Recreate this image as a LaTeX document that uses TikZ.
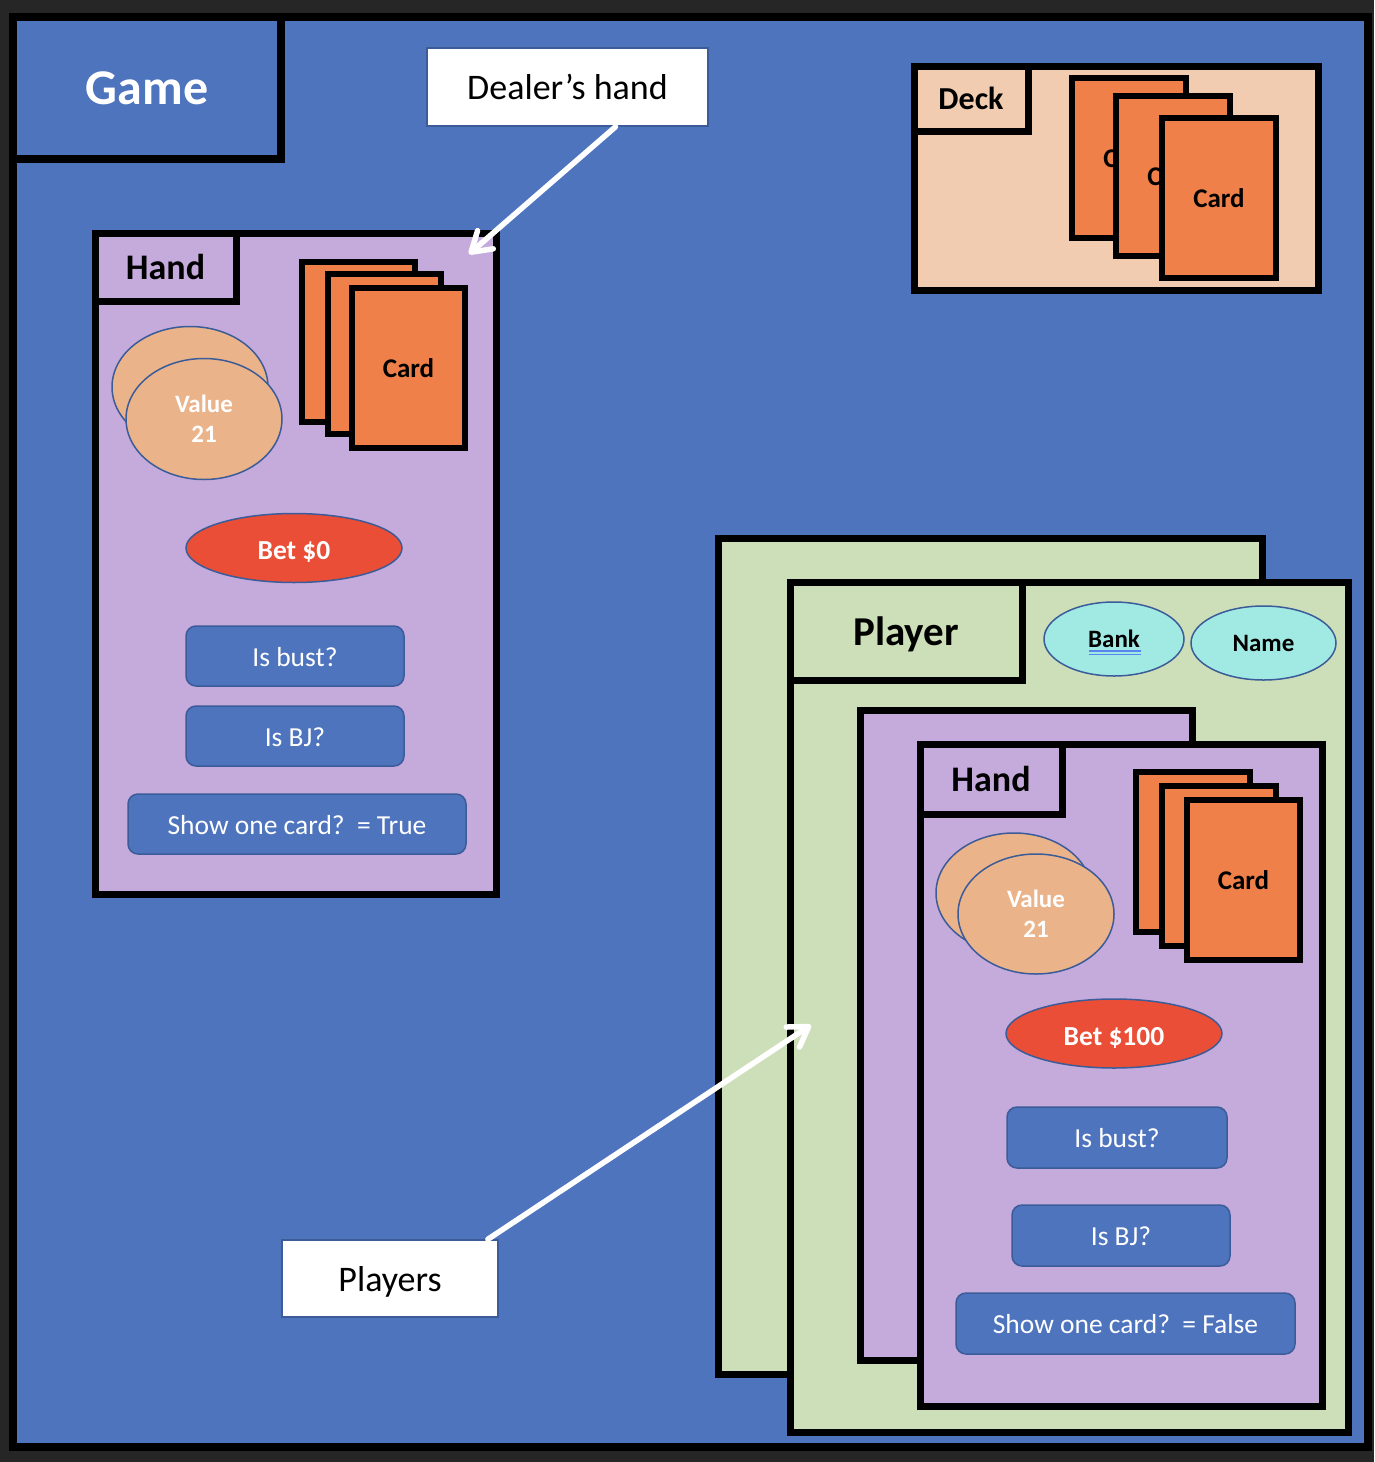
\documentclass[tikz,border=0pt]{standalone}
\usepackage{fontspec}
\setmainfont{Carlito}
\usetikzlibrary{shapes.geometric,arrows.meta,calc}
\definecolor{darkbg}{HTML}{262626}
\definecolor{bgblue}{HTML}{4E74BE}
\definecolor{lav}{HTML}{C5AADC}
\definecolor{cardor}{HTML}{EF8049}
\definecolor{peach}{HTML}{EBB38A}
\definecolor{betred}{HTML}{EA4E36}
\definecolor{sheetgreen}{HTML}{CDDFB9}
\definecolor{deckpeach}{HTML}{F1CCB0}
\definecolor{attrcyan}{HTML}{A1EAE4}
\definecolor{edgeblue}{HTML}{3B5C98}
\definecolor{ulblue}{HTML}{5A84EE}
\begin{document}
\begin{tikzpicture}[x=1pt,y=-1pt,
  box/.style={rectangle,draw=black,line width=7pt,inner sep=0pt},
  cardbox/.style={rectangle,draw=black,fill=cardor,line width=6pt,inner sep=0pt,
     minimum width=113,minimum height=160,tcard},
  callout/.style={rectangle,draw=edgeblue,fill=white,line width=1.5pt,inner sep=0pt,t36},
  valell/.style={ellipse,draw=edgeblue,fill=peach,line width=1.5pt,inner sep=0pt,
     minimum width=156,minimum height=121,text=white,align=center,
     font=\bfseries\fontsize{25}{30}\selectfont},
  betell/.style={ellipse,draw=edgeblue,fill=betred,line width=1.5pt,inner sep=0pt,
     minimum width=216,minimum height=69,text=white,tbet},
  attrell/.style={ellipse,draw=edgeblue,fill=attrcyan,line width=1.5pt,inner sep=0pt,
     minimum height=74,tattr},
  pill/.style={rectangle,rounded corners=10pt,draw=edgeblue,fill=bgblue,line width=1.5pt,
     inner sep=0pt,minimum height=60,text=white,tpill},
  warrow/.style={draw=white,line width=5.5pt,line cap=round,
     -{Straight Barb[length=19pt,width=24pt,round]}},
  tgame/.style={font=\bfseries\fontsize{50}{60}\selectfont,text height=32pt,text depth=0pt},
  t36/.style={font=\fontsize{36}{43}\selectfont,text height=25pt,text depth=0pt},
  thand/.style={font=\bfseries\fontsize{36}{43}\selectfont,text height=24pt,text depth=0pt},
  tplayer/.style={font=\bfseries\fontsize{41}{49}\selectfont,text height=28pt,text depth=0pt},
  tdeck/.style={font=\bfseries\fontsize{32}{38}\selectfont,text height=21.5pt,text depth=0pt},
  tcard/.style={font=\bfseries\fontsize{27}{32}\selectfont,text height=19pt,text depth=0pt},
  tbet/.style={font=\bfseries\fontsize{27.5}{33}\selectfont,text height=23pt,text depth=0pt},
  tpill/.style={font=\fontsize{27.5}{33}\selectfont,text height=20pt,text depth=0pt},
  tattr/.style={font=\bfseries\fontsize{25}{30}\selectfont,text height=17pt,text depth=0pt}]
\fill[darkbg] (0,0) rectangle (1374,1462);
\useasboundingbox (0,0) rectangle (1374,1462);

% game frame
\node[box,line width=8pt,fill=bgblue,minimum width=1355,minimum height=1430] (game) at (690.5,732) {};
\node[box,line width=8pt,minimum width=268,minimum height=142,text=white,tgame] (gamelbl) at (147,88) {Game};

% callouts
\node[callout,minimum width=281,minimum height=78] (dlab) at (567.5,87) {Dealer’s hand};

% dealer hand
\node[box,fill=lav,minimum width=401,minimum height=661] (dhand) at (295.5,563.5) {};
\node[box,minimum width=141,minimum height=68,thand] (dhandlbl) at (165.5,267) {Hand};
\node[cardbox] (dc1) at (358.5,342) {};
\node[cardbox] (dc2) at (384.5,354) {};
\node[cardbox] (dc3) at (408.5,368) {Card};
\node[valell] (dvb) at (190,387) {};
\node[valell] (dvf) at (204,419) {Value\\21};
\node[betell] (dbet) at (294,548) {Bet \$0};
\node[pill,minimum width=218] (dbust) at (295,656) {Is bust?};
\node[pill,minimum width=218] (dbj) at (295,736) {Is BJ?};
\node[pill,minimum width=338] (dshow) at (297,824) {Show one card?~~= True};

% deck
\node[box,fill=deckpeach,minimum width=404,minimum height=224] (deck) at (1116,178) {};
\node[box,minimum width=114,minimum height=65,tdeck] (decklbl) at (971,98.5) {Deck};
\node[cardbox,minimum width=114] (k1) at (1129,158) {Card};
\node[cardbox,minimum width=114] (k2) at (1173,176) {Card};
\node[cardbox,minimum width=114] (k3) at (1219,198) {Card};

% players
\node[box,fill=sheetgreen,minimum width=544,minimum height=836] (pback) at (990,956) {};
\node[box,fill=sheetgreen,minimum width=558,minimum height=850] (pfront) at (1069,1007) {};
\node[box,minimum width=232,minimum height=98,tplayer] (plbl) at (906,631) {Player};
\node[attrell,minimum width=140] (bank) at (1114,639) {Bank};
\draw[ulblue,line width=1.2pt] ($(bank.center)+(-25,12)$) -- ++(52,0)
      ($(bank.center)+(-25,15.5)$) -- ++(52,0);
\node[attrell,minimum width=145] (name) at (1263.5,643) {Name};

\node[box,fill=lav,minimum width=332,minimum height=650] (phb) at (1026,1035) {};
\node[box,fill=lav,minimum width=402,minimum height=662] (phf) at (1121,1075) {};
\node[box,minimum width=142,minimum height=70,thand] (phlbl) at (991,779) {Hand};
\node[cardbox,minimum width=114] (pc1) at (1193,852) {};
\node[cardbox,minimum width=114] (pc2) at (1219,866) {};
\node[cardbox] (pc3) at (1243.5,880) {Card};
\node[valell,minimum height=120] (pvb) at (1014,893) {};
\node[valell,minimum height=120] (pvf) at (1036,914) {Value\\21};
\node[betell] (pbet) at (1114,1033.5) {Bet \$100};
\node[pill,minimum width=220,minimum height=61] (pbust) at (1117,1137.5) {Is bust?};
\node[pill,minimum width=218,minimum height=61] (pbj) at (1121,1235.5) {Is BJ?};
\node[pill,minimum width=339,minimum height=61] (pshow) at (1125.5,1323.5) {Show one card?~~= False};

\node[callout,minimum width=216,minimum height=77] (plab) at (390,1278.5) {Players};

% arrows
\coordinate (dtip) at (469,254);
\coordinate (ptip) at (811,1025);
\draw[warrow] ($(dlab.south west)!0.67!(dlab.south east)$) -- (dtip);
\draw[warrow] ($(plab.north west)!0.95!(plab.north east)$) -- (ptip);
\end{tikzpicture}
\end{document}
